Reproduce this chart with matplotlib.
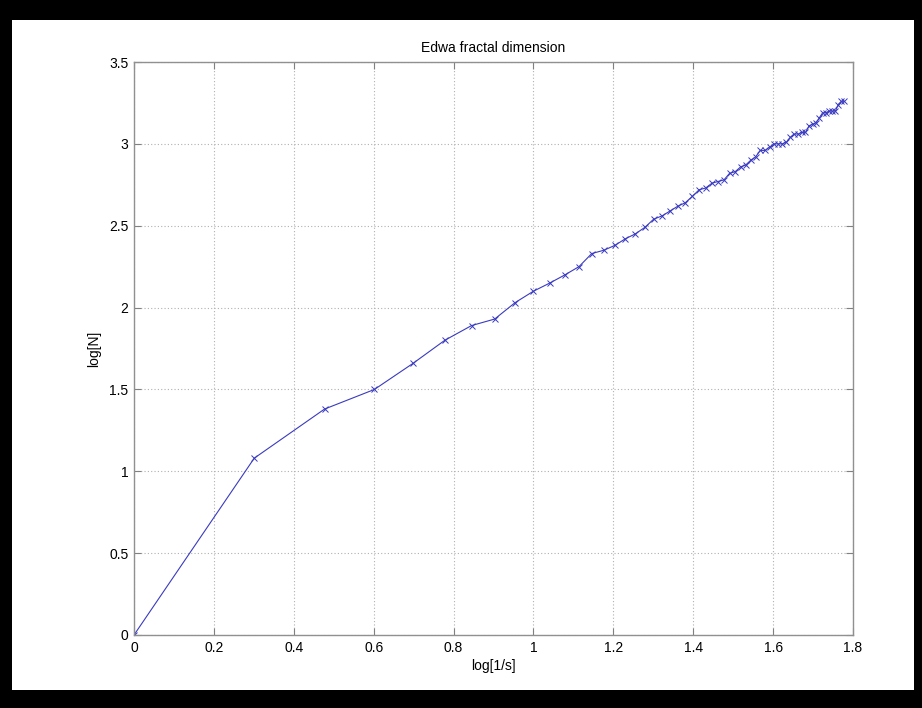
import matplotlib.pyplot as plt
from matplotlib.patches import Rectangle

# box size exponent log[1/s] and box count log[N]
log_inv_s = [0.0, 0.301, 0.477, 0.602, 0.699, 0.778, 0.845, 0.903, 0.954, 1.0,
             1.041, 1.079, 1.114, 1.146, 1.176, 1.204, 1.230, 1.255, 1.279, 1.301,
             1.322, 1.342, 1.362, 1.380, 1.398, 1.415, 1.431, 1.447, 1.462, 1.477,
             1.491, 1.505, 1.519, 1.531, 1.544, 1.556, 1.568, 1.580, 1.591, 1.602,
             1.613, 1.623, 1.633, 1.643, 1.653, 1.663, 1.672, 1.681, 1.690, 1.699,
             1.708, 1.716, 1.724, 1.732, 1.740, 1.748, 1.756, 1.763, 1.771, 1.778]
log_n = [0.0, 1.08, 1.38, 1.50, 1.66, 1.80, 1.89, 1.93, 2.03, 2.10,
         2.15, 2.20, 2.25, 2.33, 2.35, 2.38, 2.42, 2.45, 2.49, 2.54,
         2.56, 2.59, 2.62, 2.64, 2.68, 2.72, 2.73, 2.76, 2.77, 2.78,
         2.82, 2.83, 2.86, 2.87, 2.90, 2.92, 2.96, 2.96, 2.98, 3.00,
         3.00, 3.00, 3.01, 3.04, 3.06, 3.06, 3.07, 3.07, 3.11, 3.12,
         3.13, 3.16, 3.19, 3.19, 3.20, 3.20, 3.20, 3.24, 3.26, 3.26]

xticks = [0, 0.2, 0.4, 0.6, 0.8, 1, 1.2, 1.4, 1.6, 1.8]
xtick_labels = ['0', '0.2', '0.4', '0.6', '0.8', '1', '1.2', '1.4', '1.6', '1.8']
yticks = [0, 0.5, 1, 1.5, 2, 2.5, 3, 3.5]
ytick_labels = ['0', '0.5', '1', '1.5', '2', '2.5', '3', '3.5']

plt.rcParams['font.family'] = ['Liberation Sans', 'DejaVu Sans']

fig = plt.figure(figsize=(9.22, 7.08), dpi=100, facecolor='black')
# white window area inside the black screen-capture border
fig.patches.append(Rectangle((12 / 922, 1 - 690 / 708), 902 / 922, 670 / 708,
                             transform=fig.transFigure, facecolor='white',
                             edgecolor='none', zorder=-10))

ax = fig.add_axes([134 / 922, 1 - 635 / 708, 719 / 922, 573 / 708])
ax.plot(log_inv_s, log_n, color='#3a3ac0', linewidth=0.8, marker='x',
        markersize=5, markeredgewidth=0.7)

ax.set_xlim(0, 1.8)
ax.set_ylim(0, 3.5)
ax.set_xticks(xticks)
ax.set_xticklabels(xtick_labels)
ax.set_yticks(yticks)
ax.set_yticklabels(ytick_labels)
ax.tick_params(direction='in', length=5, width=0.8, color='#808080',
               labelsize=10, labelcolor='black', pad=4, top=True, right=True)
for s in ax.spines.values():
    s.set_color('#909090')
    s.set_linewidth(1.0)
ax.grid(True, linestyle=(0, (1, 2)), color='#b0b0b0', linewidth=0.8)

ax.set_title('Edwa fractal dimension', fontsize=10, pad=7)
ax.set_xlabel('log[1/s]', fontsize=10, labelpad=3)
ax.set_ylabel('log[N]', fontsize=10, labelpad=6)

fig.savefig('out.png', dpi=100, facecolor='black')
